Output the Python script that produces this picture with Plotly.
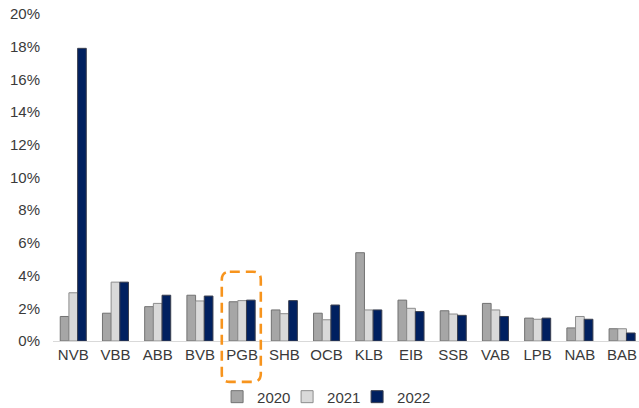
import plotly.graph_objects as go

categories = ["NVB", "VBB", "ABB", "BVB", "PGB", "SHB", "OCB", "KLB", "EIB", "SSB", "VAB", "LPB", "NAB", "BAB"]
v2020 = [1.5, 1.7, 2.1, 2.8, 2.4, 1.9, 1.7, 5.4, 2.5, 1.85, 2.3, 1.4, 0.8, 0.75]
v2021 = [2.95, 3.6, 2.3, 2.45, 2.47, 1.67, 1.3, 1.9, 2.0, 1.65, 1.9, 1.33, 1.5, 0.75]
v2022 = [17.9, 3.6, 2.8, 2.75, 2.5, 2.47, 2.2, 1.9, 1.8, 1.57, 1.5, 1.4, 1.33, 0.49]
series_names = ["2020", "2021", "2022"]
y_ticks = [0, 2, 4, 6, 8, 10, 12, 14, 16, 18, 20]
highlight = "PGB"

FONT = "Liberation Sans, Arial, sans-serif"
fills = ["#A6A6A6", "#D9D9D9", "#002060"]
edges = ["#727272", "#8C8C8C", "#3A3F4F"]
legend_widths = [25, 25, 40]

x_idx = list(range(len(categories)))
fig = go.Figure()
for name, vals, fc, ec, lw in zip(series_names, [v2020, v2021, v2022], fills, edges, legend_widths):
    fig.add_trace(go.Bar(
        x=x_idx, y=vals, name=name, legendwidth=lw,
        marker=dict(color=fc, line=dict(color=ec, width=1)),
    ))

# dashed rounded highlight box around PGB
hi = categories.index(highlight)
x0, x1 = hi - 0.482, hi + 0.442
y0, y1 = -0.125, 0.212
rx, ry = 0.19, 0.0245
path = (f"M {x0+rx},{y1} L {x1-rx},{y1} Q {x1},{y1} {x1},{y1-ry} "
        f"L {x1},{y0+ry} Q {x1},{y0} {x1-rx},{y0} "
        f"L {x0+rx},{y0} Q {x0},{y0} {x0},{y0+ry} "
        f"L {x0},{y1-ry} Q {x0},{y1} {x0+rx},{y1} Z")
fig.add_shape(type="path", path=path, xref="x", yref="paper",
              line=dict(color="#F7941D", width=2.6, dash="10px,6px"),
              fillcolor="rgba(0,0,0,0)", layer="above")

fig.update_layout(
    width=639, height=408,
    margin=dict(l=53, r=0, t=14, b=67, autoexpand=False),
    paper_bgcolor="white", plot_bgcolor="white",
    barmode="group", bargap=0.383, bargroupgap=0,
    font=dict(family=FONT, size=15, color="#3A3A3A"),
    showlegend=True,
    legend=dict(orientation="h", x=0.472, xanchor="center", y=-0.171, yanchor="middle",
                font=dict(size=15, color="#3A3A3A"), entrywidth=25, entrywidthmode="pixels",
                bgcolor="rgba(0,0,0,0)", traceorder="normal"),
    xaxis=dict(
        range=[-0.48, 13.4], tickmode="array", tickvals=x_idx, ticktext=categories,
        showgrid=False, zeroline=False, showline=True, linecolor="#D9D9D9", linewidth=1,
        ticks="", tickfont=dict(size=15, color="#3A3A3A"), automargin=False,
    ),
    yaxis=dict(
        range=[0, 20], tickmode="array", tickvals=y_ticks,
        ticktext=[f"{t}%" for t in y_ticks],
        showgrid=False, zeroline=False, showline=False, ticks="",
        ticklabelstandoff=12, tickfont=dict(size=15, color="#3A3A3A"), automargin=False,
    ),
)

fig.write_html(
    "out.html",
    config={"displayModeBar": False},
    post_script="document.body.style.margin='0';document.body.style.padding='0';document.body.style.overflow='hidden';",
)
